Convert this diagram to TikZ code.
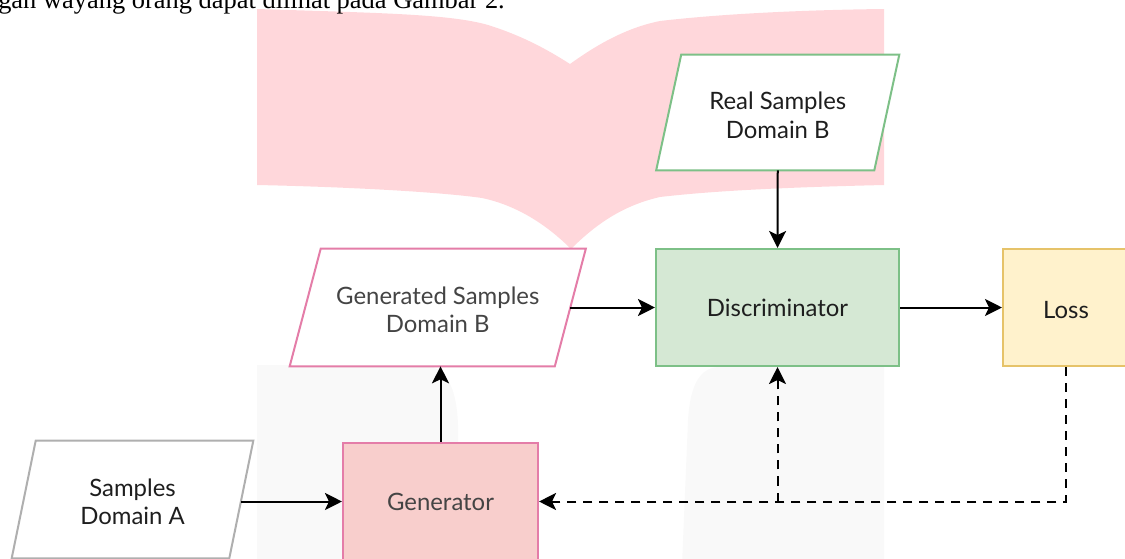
\documentclass[tikz,border=0pt]{standalone}
\usepackage{fontspec}
\newfontfamily\lato{Lato}
\newfontfamily\tnr{Liberation Serif}
\usetikzlibrary{arrows.meta}
\pgfdeclarelayer{bgzero}
\pgfdeclarelayer{bgone}
\pgfsetlayers{bgzero,bgone,main}
\definecolor{pinkbg}{RGB}{255,215,219}
\definecolor{graybg}{RGB}{249,249,249}
\definecolor{pinkline}{RGB}{228,125,168}
\definecolor{genfill}{RGB}{248,206,204}
\definecolor{greenline}{RGB}{125,192,135}
\definecolor{greenfill}{RGB}{213,232,212}
\definecolor{yelfill}{RGB}{255,242,204}
\definecolor{yelline}{RGB}{230,195,105}
\definecolor{grayline}{RGB}{175,175,175}
\definecolor{txtdark}{RGB}{30,30,30}
\definecolor{txtgray}{RGB}{68,68,68}
\newcommand\paraoutline[3]{%
  \draw[#1] ([xshift=#3]#2.north west) -- ([xshift=#3]#2.north east) -- ([xshift=-#3]#2.south east) -- ([xshift=-#3]#2.south west) -- cycle;}
\tikzset{
  txt/.style={inner sep=0pt, align=center, font=\lato\fontsize{17}{20.3}\selectfont, text=txtdark},
  box/.style={minimum height=2.925cm, inner sep=0pt},
  rectbox/.style={box, txt, draw, line width=0.05cm},
  paraline/.style={line width=0.05cm, line join=miter, fill=white},
  conn/.style={line width=0.05cm, -{Stealth[length=0.425cm, width=0.425cm, inset=0.1cm]}},
  dashconn/.style={conn, dash pattern=on 0.225cm off 0.175cm}
}
\begin{document}
\begin{tikzpicture}[x=0.025cm, y=-0.025cm]
\useasboundingbox (0,0) rectangle (1125,559);
% background decorations
\begin{pgfonlayer}{bgzero}
  \fill[pinkbg] (257,9) .. controls (380,13) and (450,14) .. (488,25)
     .. controls (520,35) and (545,48) .. (570,64)
     .. controls (595,46) and (625,28) .. (660,21)
     .. controls (720,14) and (800,10) .. (884,9)
     -- (884,185)
     .. controls (800,187) and (720,190) .. (660,197)
     .. controls (625,205) and (598,222) .. (571,249)
     .. controls (545,223) and (515,205) .. (482,198)
     .. controls (440,192) and (350,187) .. (257,185) -- cycle;
  \fill[graybg] (257,365) -- (425,365) .. controls (450,368) and (457,395) .. (458,425)
     -- (460,565) -- (257,565) -- cycle;
  \fill[graybg] (718,367) -- (884,367) -- (884,565) -- (682,565) -- (688,420)
     .. controls (690,385) and (700,368) .. (718,367) -- cycle;
\end{pgfonlayer}
% top text line (cut by the page edge, as in the reference)
\node[anchor=base west, inner sep=0pt, font=\tnr\fontsize{18.8}{22}\selectfont] (toptext) at (-2,8) {gan wayang orang dapat dilihat pada Gambar 2.};
% shape nodes
\node[box, minimum width=5.4375cm, minimum height=2.875cm] (rsb) at (777.75,112.5) {};
\node[box, minimum width=6.6125cm] (gsb) at (437.75,307.5) {};
\node[box, minimum width=5.425cm] (sa) at (132.5,499.5) {};
\node[rectbox, minimum width=6.075cm, draw=greenline, fill=greenfill] (dis) at (777.5,307.5) {Discriminator};
\node[box, draw, line width=0.05cm, minimum width=3.15cm, draw=yelline, fill=yelfill] (loss) at (1066,307.5) {};
\node[rectbox, minimum width=4.875cm, draw=pinkline, fill=genfill, text=txtgray] (gen) at (440.5,501.5) {Generator};
\begin{pgfonlayer}{bgone}
  \paraoutline{paraline, draw=greenline}{rsb}{0.3125cm}
  \paraoutline{paraline, draw=pinkline}{gsb}{0.3875cm}
  \paraoutline{paraline, draw=grayline}{sa}{0.3cm}
\end{pgfonlayer}
% texts of the shapes
\node[txt] (rsbt) at ([yshift=-0.075cm]rsb.center) {Real Samples\\Domain B};
\node[txt, text=txtgray] (gsbt) at ([yshift=-0.06cm]gsb.center) {Generated Samples\\Domain B};
\node[txt] (sat) at ([yshift=-0.06cm]sa.center) {Samples\\Domain A};
\node[txt] (losst) at ([yshift=-0.06cm]loss.center) {Loss};
% connectors
\draw[conn] (rsb.south) -- (dis.north);
\draw[conn] (gsb.east) -- (gsb.east -| dis.west);
\draw[conn] (dis.east) -- (loss.west);
\draw[conn] (gen.west -| sa.east) -- (gen.west);
\draw[conn] (gen.north) -- (gen.north |- gsb.south);
\coordinate (jn) at (dis.south |- gen.east);
\draw[dashconn] (loss.south) |- (gen.east);
\draw[dashconn] (jn) -- (dis.south);
\end{tikzpicture}
\end{document}
